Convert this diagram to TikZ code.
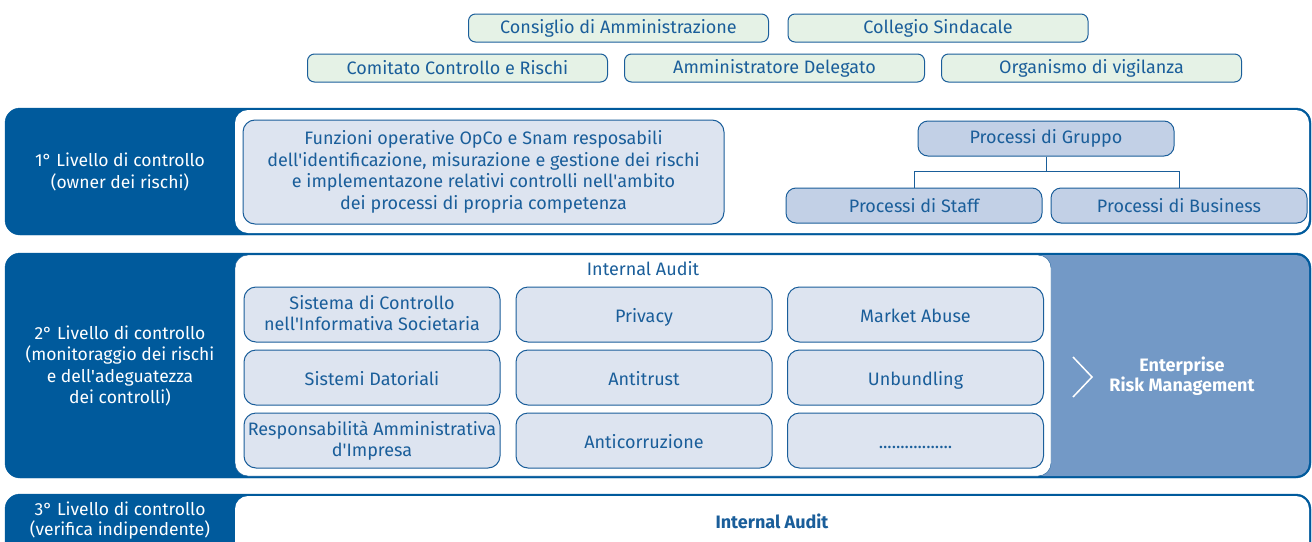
\documentclass[tikz,border=0pt]{standalone}
\usepackage{fontspec}
\setmainfont{Fira Sans}
\usepackage{xcolor}
\definecolor{bandblue}{HTML}{005A9C}
\definecolor{txtblue}{HTML}{1A5E9A}
\definecolor{boxfill}{HTML}{DDE4F0}
\definecolor{grpfill}{HTML}{C2D0E6}
\definecolor{orgfill}{HTML}{E5F2E6}
\definecolor{ermfill}{HTML}{7399C6}
\newcommand{\ap}{\textquotesingle}
\newcommand{\vstrut}{\rule[-3.4pt]{0pt}{23.4pt}}

\begin{document}
\begin{tikzpicture}[
  x=1pt,y=-1pt,
  every node/.style={font=\fontsize{18}{21.5}\selectfont,text=txtblue,align=center},
  organ/.style={draw=txtblue,line width=1pt,fill=orgfill,rounded corners=7,minimum width=300,minimum height=28,inner sep=0},
  ctrl/.style={draw=txtblue,line width=1pt,fill=boxfill,rounded corners=12,minimum width=256,minimum height=55,inner sep=0,
    execute at begin node=\vstrut,execute at end node=\vstrut},
  proc/.style={draw=txtblue,line width=1pt,fill=grpfill,rounded corners=10,minimum width=256,minimum height=35,inner sep=0},
  level/.style={text=white,font=\fontsize{17.5}{21.5}\selectfont},
  band/.style={draw=bandblue,fill=bandblue,rounded corners=15},
  panel/.style={fill=white,rounded corners=13}
]
\useasboundingbox (0,0) rectangle (1312,541);
\clip (0,0) rectangle (1312,541);

% organi di governo
\node[organ] (cda) at (618.5,28) {Consiglio di Amministrazione};
\node[organ] (cs) at (938,28) {Collegio Sindacale};
\node[organ] (ccr) at (457.5,68) {Comitato Controllo e Rischi};
\node[organ] (ad) at (774.5,68) {Amministratore Delegato};
\node[organ] (odv) at (1091.5,68) {Organismo di vigilanza};

% 1 livello
\draw[band] (5,108) rectangle (1311,235);
\fill[panel] (235,110) rectangle (1309,233);
\node[level] (liv1) at (120,172) {1° Livello di controllo\\(owner dei rischi)};
\node[ctrl,minimum width=481,minimum height=104] (funz) at (483.5,172)
  {Funzioni operative OpCo e Snam resposabili\\dell\ap identificazione, misurazione e gestione dei rischi\\e implementazone relativi controlli nell\ap ambito\\dei processi di propria competenza};
\node[proc] (grp) at (1046,138.5) {Processi di Gruppo};
\node[proc] (staff) at (914,205.5) {Processi di Staff};
\node[proc] (bus) at (1179,205.5) {Processi di Business};
\draw[txtblue] (grp.south) -- ++(0,15) coordinate (fork) -| (staff.north);
\draw[txtblue] (fork) -| (bus.north);

% 2 livello
\draw[band] (5,253) rectangle (1311,478);
\fill[ermfill,rounded corners=13] (1030,255) rectangle (1309,476);
\draw[txtblue,fill=white,rounded corners=13] (235,255) rectangle (1051,476);
\node[level] (liv2) at (120,366) {2° Livello di controllo\\(monitoraggio dei rischi\\e dell\ap adeguatezza\\dei controlli)};
\node (ia2) at (643,269) {Internal Audit};
\node[ctrl] (scis) at (372,314.5) {Sistema di Controllo\\nell\ap Informativa Societaria};
\node[ctrl] (priv) at (644,314.5) {Privacy};
\node[ctrl] (mab) at (915.5,314.5) {Market Abuse};
\node[ctrl] (sdat) at (372,377.5) {Sistemi Datoriali};
\node[ctrl] (atr) at (644,377.5) {Antitrust};
\node[ctrl] (unb) at (915.5,377.5) {Unbundling};
\node[ctrl] (rai) at (372,440.5) {Responsabilità Amministrativa\\d\ap Impresa};
\node[ctrl] (acor) at (644,440.5) {Anticorruzione};
\node[ctrl] (altro) at (915.5,440.5) {.................};
\draw[white,line width=1.5pt] (1073,357) -- (1092,377) -- (1073,397);
\node[text=white,font=\fontsize{18}{18}\selectfont\bfseries] (erm) at (1182,376) {Enterprise\\Risk Management};

% 3 livello
\draw[band] (5,494) rectangle (1311,575);
\fill[panel] (235,496) rectangle (1309,573);
\node[level,font=\fontsize{17.5}{20}\selectfont] (liv3) at (120,521) {3° Livello di controllo\\(verifica indipendente)};
\node[font=\fontsize{18}{20}\selectfont\bfseries] (ia3) at (772,521) {Internal Audit};
\end{tikzpicture}
\end{document}
